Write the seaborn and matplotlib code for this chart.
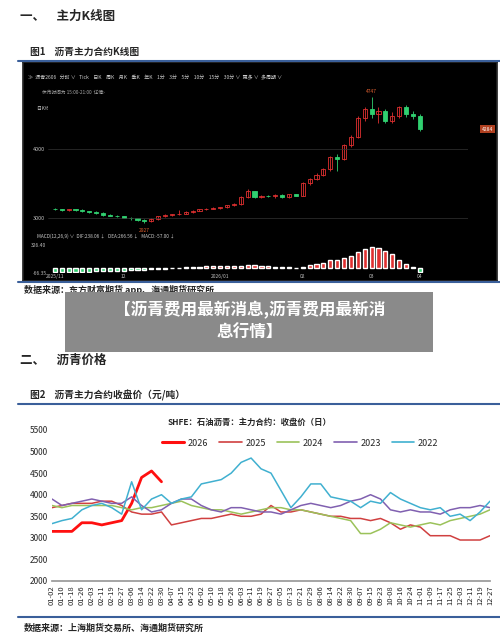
import numpy as np
import pandas as pd
import matplotlib
matplotlib.use("Agg")
import matplotlib.pyplot as plt
import seaborn as sns

sns.set_theme(style="white")
plt.rcParams['font.family'] = ['Noto Sans CJK SC', 'DejaVu Sans']

# ---- data: K-line (approx. daily candles, 2025/11 - 2026/04) ----
k_open = [3130, 3120, 3110, 3120, 3110, 3090, 3080, 3070, 3040, 3030, 3020, 3000, 2990, 2960, 2950,
          2980, 3020, 3040, 3050, 3060, 3080, 3100, 3120, 3130, 3140, 3150, 3180, 3200, 3300, 3380,
          3300, 3320, 3310, 3330, 3300, 3340, 3320, 3500, 3560, 3620, 3700, 3880, 3850, 4050, 4170,
          4450, 4570, 4500, 4550, 4400, 4480, 4600, 4500, 4470]
k_close = [3120, 3110, 3120, 3110, 3090, 3080, 3070, 3040, 3030, 3020, 3000, 2990, 2960, 2950, 2980,
           3020, 3040, 3050, 3060, 3080, 3100, 3120, 3130, 3140, 3150, 3180, 3200, 3300, 3380, 3300,
           3320, 3310, 3330, 3300, 3340, 3320, 3500, 3560, 3620, 3700, 3880, 3850, 4050, 4170, 4450,
           4570, 4500, 4550, 4400, 4480, 4600, 4500, 4470, 4284]
k_high = [3140, 3130, 3130, 3130, 3120, 3100, 3090, 3080, 3050, 3040, 3030, 3010, 3000, 2980, 2990,
          3030, 3050, 3060, 3110, 3090, 3110, 3130, 3140, 3150, 3160, 3190, 3210, 3310, 3420, 3390,
          3330, 3330, 3340, 3340, 3350, 3350, 3520, 3580, 3650, 3720, 3900, 3930, 4070, 4200, 4470,
          4600, 4747, 4600, 4580, 4530, 4620, 4640, 4550, 4500]
k_low = [3110, 3100, 3100, 3100, 3080, 3070, 3060, 3030, 3020, 3010, 2990, 2970, 2950, 2927, 2940,
         2970, 3010, 3030, 3040, 3050, 3070, 3090, 3110, 3120, 3130, 3140, 3170, 3190, 3290, 3290,
         3290, 3300, 3290, 3290, 3290, 3310, 3310, 3480, 3540, 3600, 3680, 3680, 3830, 4020, 4150,
         4400, 4450, 4380, 4370, 4370, 4450, 4460, 4430, 4260]
macd_hist = [-60, -60, -55, -55, -55, -50, -45, -45, -40, -40, -35, -30, -30, -25, -20,
             -15, -10, 0, 5, 10, 15, 20, 25, 25, 30, 30, 30, 35, 45, 40,
             30, 25, 20, 15, 10, 5, 20, 40, 60, 80, 110, 120, 150, 180, 230,
             270, 300, 290, 250, 200, 120, 60, 20, -57]

# ---- data: price by year ----
dates = ['01-02', '01-10', '01-18', '01-26', '02-03', '02-11', '02-19', '02-27', '03-06', '03-14',
         '03-22', '03-30', '04-07', '04-15', '04-23', '05-02', '05-10', '05-18', '05-26', '06-03',
         '06-11', '06-19', '06-27', '07-05', '07-13', '07-21', '07-29', '08-06', '08-14', '08-22',
         '08-30', '09-07', '09-15', '09-23', '10-08', '10-16', '10-24', '11-01', '11-09', '11-17',
         '11-25', '12-03', '12-11', '12-19', '12-27']
y2026 = [3150, 3150, 3150, 3350, 3350, 3300, 3350, 3400, 3800, 4400, 4550, 4300]
y2025 = [3700, 3750, 3800, 3800, 3800, 3850, 3850, 3750, 3600, 3550, 3550, 3600, 3300, 3350, 3400,
         3450, 3450, 3500, 3550, 3500, 3500, 3550, 3750, 3600, 3600, 3650, 3600, 3550, 3500, 3500,
         3450, 3450, 3400, 3450, 3350, 3200, 3300, 3250, 3050, 3050, 3050, 2950, 2950, 2950, 3050]
y2024 = [3750, 3700, 3750, 3750, 3750, 3750, 3750, 3700, 3650, 3700, 3700, 3750, 3800, 3850, 3750,
         3700, 3650, 3650, 3600, 3550, 3600, 3650, 3700, 3700, 3650, 3650, 3600, 3550, 3500, 3450,
         3400, 3100, 3100, 3200, 3350, 3300, 3250, 3300, 3350, 3300, 3400, 3450, 3500, 3550, 3650]
y2023 = [3900, 3750, 3800, 3850, 3900, 3850, 3800, 3800, 3950, 3750, 3600, 3650, 3800, 3900, 3900,
         3750, 3650, 3600, 3700, 3700, 3650, 3600, 3600, 3550, 3650, 3750, 3800, 3750, 3700, 3750,
         3850, 3900, 4000, 3900, 3650, 3600, 3650, 3600, 3600, 3550, 3650, 3700, 3700, 3750, 3700]
y2022 = [3330, 3400, 3450, 3650, 3750, 3800, 3700, 3550, 4300, 3650, 3900, 4000, 3800, 3900, 3950,
         4250, 4300, 4350, 4500, 4750, 4850, 4600, 4500, 4100, 3700, 3950, 4250, 4250, 3950, 3900,
         3850, 3700, 3850, 3800, 4050, 3900, 3800, 3700, 3650, 3700, 3500, 3550, 3400, 3600, 3850]

W, H = 500, 643
fig = plt.figure(figsize=(W / 100, H / 100), dpi=100)
fig.patch.set_facecolor('white')

def fx(px):
    return px / W

def fy(py):
    return 1 - py / H

def ax_at(x0, y0, x1, y1):
    return fig.add_axes([fx(x0), fy(y1), fx(x1 - x0), (y1 - y0) / H])

# ---- section 1 header ----
fig.text(fx(20), fy(16), '一、    主力K线图', fontsize=9, weight='bold', va='center')
fig.text(fx(30), fy(52), '图1    沥青主力合约K线图', fontsize=7, weight='bold', va='center')
fig.add_artist(plt.Line2D([fx(18), fx(500)], [fy(61), fy(61)], color='#3a5f9a', lw=1.5))

# black panel
panel = ax_at(23, 62, 497, 281)
panel.set_facecolor('black')
panel.set_xticks([]); panel.set_yticks([])
toolbar = '≫  沥青2606   分时 ∨   Tick    日K    周K    月K    季K    年K    1分    3分    5分    10分    15分    30分 ∨  更多 ∨  多周期 ∨'
panel.text(0.01, 0.93, toolbar, transform=panel.transAxes, color='#cccccc', fontsize=3.6, va='center')
panel.text(0.04, 0.86, '休市时间为 15:00-21:00  详情›', transform=panel.transAxes, color='#aaaaaa', fontsize=3.4, va='center')
panel.text(0.03, 0.79, '日K线 ∨', transform=panel.transAxes, color='#cccccc', fontsize=3.4, va='center')

kax = ax_at(48, 95, 468, 228)
kax.set_facecolor('black')
idx = np.arange(len(k_close))
for i in idx:
    up = k_close[i] >= k_open[i]
    col = '#e03030' if up else '#30d070'
    kax.vlines(i, k_low[i], k_high[i], color=col, lw=0.6)
    lo, hi = sorted([k_open[i], k_close[i]])
    kax.bar(i, max(hi - lo, 8), bottom=lo, width=0.6, color='black' if up else col,
            edgecolor=col, linewidth=0.6)
kax.set_xlim(-1, len(k_close) + 6)
kax.set_ylim(2850, 4780)
for v in [3000, 4000]:
    kax.axhline(v, color='#333333', lw=0.5)
kax.set_xticks([])
kax.set_yticks([3000, 4000])
kax.set_yticklabels(['3000', '4000'], color='#bbbbbb', fontsize=4)
kax.tick_params(length=0, pad=2)
kax.text(len(k_close) + 8, 4284, '4284', color='white', fontsize=3.6, va='center',
         bbox=dict(facecolor='#b04020', edgecolor='none', pad=1))
kax.annotate('4747', (46, 4747), xytext=(0, 3), textcoords='offset points', color='#e06030', fontsize=3.5, ha='center')
kax.annotate('2927', (13, 2927), xytext=(0, -7), textcoords='offset points', color='#e06030', fontsize=3.5, ha='center')
for s in kax.spines.values():
    s.set_visible(False)

mlabel = 'MACD(12,26,9) ∨  DIF:238.06 ↓   DEA:266.56 ↓   MACD:-57.00 ↓'
panel.text(0.03, 0.205, mlabel, transform=panel.transAxes, color='#cccccc', fontsize=3.4, va='center')
max_ = ax_at(48, 245, 468, 273)
max_.set_facecolor('black')
hcols = ['#e03030' if h >= 0 else '#30d070' for h in macd_hist]
max_.bar(idx, macd_hist, width=0.6, color=hcols)
max_.set_xlim(-1, len(k_close) + 6)
max_.set_ylim(-70, 330)
max_.set_xticks([0, 10, 24, 36, 46, 53])
max_.set_xticklabels(['2025/11', '12', '2026/01', '02', '03', '04'], color='#bbbbbb', fontsize=3.6)
max_.set_yticks([-66.35, 326.40])
max_.set_yticklabels(['-66.35', '326.40'], color='#bbbbbb', fontsize=3.6)
max_.tick_params(length=0, pad=1)
for s in max_.spines.values():
    s.set_visible(False)

fig.add_artist(plt.Line2D([fx(18), fx(500)], [fy(282), fy(282)], color='#3a5f9a', lw=1.5))
fig.text(fx(24), fy(290), '数据来源：东方财富期货 app、海通期货研究所', fontsize=6.5, weight='bold', va='center')

# gray banner
fig.add_artist(plt.Rectangle((fx(65), fy(352)), fx(433 - 65), (352 - 292) / H,
                             facecolor='#8a8a8a', edgecolor='none', zorder=5))
fig.text(0.5, fy(310), '【沥青费用最新消息,沥青费用最新消', fontsize=12, weight='bold', color='white', ha='center', va='center', zorder=6)
fig.text(0.5, fy(333), '息行情】', fontsize=12, weight='bold', color='white', ha='center', va='center', zorder=6)

# ---- section 2 ----
fig.text(fx(20), fy(360), '二、    沥青价格', fontsize=9, weight='bold', va='center')
fig.text(fx(30), fy(395), '图2    沥青主力合约收盘价（元/吨）', fontsize=7, weight='bold', va='center')
fig.add_artist(plt.Line2D([fx(18), fx(500)], [fy(404), fy(404)], color='#3a5f9a', lw=1.5))

series = {'2026': y2026, '2025': y2025, '2024': y2024, '2023': y2023, '2022': y2022}
rows = []
for yr, vals in series.items():
    for i, v in enumerate(vals):
        rows.append({'pos': i, 'price': v, 'year': yr})
df = pd.DataFrame(rows)
palette = {'2026': '#ff1010', '2025': '#d04040', '2024': '#9bc25a', '2023': '#8060b0', '2022': '#40b0d0'}

ax = ax_at(52, 430, 490, 581)
sns.lineplot(data=df, x='pos', y='price', hue='year', palette=palette, ax=ax,
             linewidth=1.1, legend=False)
for line in ax.get_lines():
    if tuple(np.round(matplotlib.colors.to_rgb(line.get_color()), 3)) == tuple(np.round(matplotlib.colors.to_rgb('#ff1010'), 3)):
        line.set_linewidth(2)
ax.set_xlim(0, len(dates) - 1)
ax.set_ylim(2000, 5500)
ax.set_yticks(range(2000, 5501, 500))
ax.set_yticklabels([str(v) for v in range(2000, 5501, 500)], fontsize=6)
ax.set_xticks(range(len(dates)))
ax.set_xticklabels(dates, rotation=90, fontsize=5.5)
ax.set_xlabel(''); ax.set_ylabel('')
ax.tick_params(length=2, pad=1)
for s in ['top', 'right', 'left']:
    ax.spines[s].set_visible(False)
ax.spines['bottom'].set_color('#999999')

fig.text(0.5, fy(422), 'SHFE：石油沥青：主力合约：收盘价（日）', fontsize=6, weight='bold', ha='center', va='center')
handles = [plt.Line2D([], [], color=palette[y], lw=2.2 if y == '2026' else 1.2) for y in series]
fig.legend(handles, list(series), loc='center', bbox_to_anchor=(0.6, fy(443)), ncol=5, frameon=False,
           fontsize=6.5, handlelength=2.5, columnspacing=1.2, handletextpad=0.4)

fig.add_artist(plt.Line2D([fx(18), fx(500)], [fy(617), fy(617)], color='#3a5f9a', lw=1.5))
fig.text(fx(24), fy(628), '数据来源：上海期货交易所、海通期货研究所', fontsize=6.5, weight='bold', va='center')

fig.savefig('out.png', dpi=100, facecolor='white')
